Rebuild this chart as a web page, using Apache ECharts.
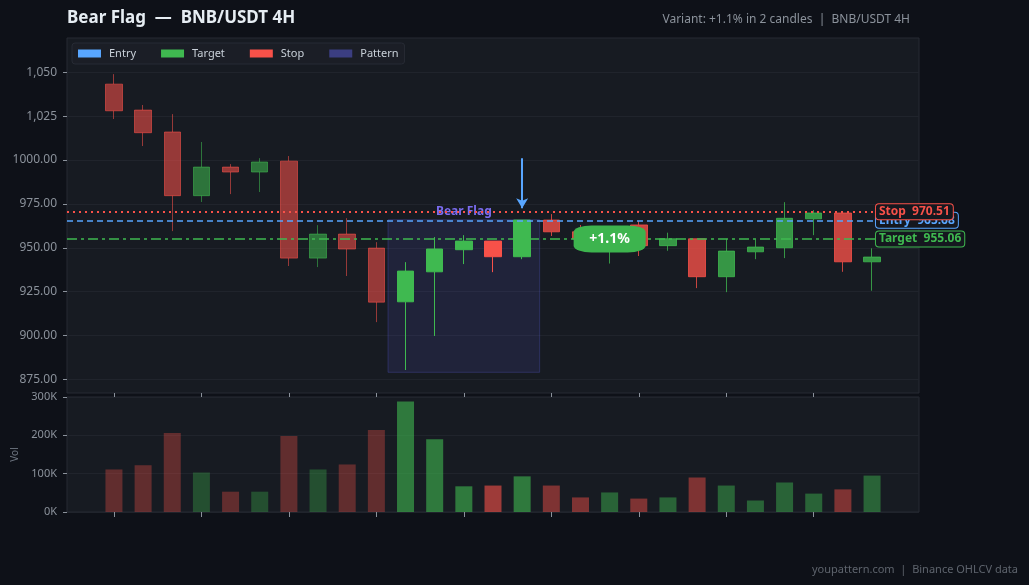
<!DOCTYPE html>
<html>
<head>
<meta charset="utf-8">
<script src="https://cdn.jsdelivr.net/npm/echarts@6/dist/echarts.min.js"></script>
<style>
  html, body { margin: 0; padding: 0; background: #0e1118; }
  #chart { width: 1029px; height: 585px; }
</style>
</head>
<body>
<div id="chart"></div>
<script>
// candle data (index 0..26, 4H candles)
const opens  = [1043.3, 1028.5, 1016.0, 979.7, 996.0, 993.2, 999.4, 944.1, 957.8, 949.8,
                919.2, 936.3, 948.9, 953.8, 944.9, 965.8, 959.1, 953.0, 963.0, 951.2,
                955.1, 933.5, 947.7, 950.0, 966.5, 969.8, 942.0];
const closes = [1028.1, 1015.6, 979.7, 996.0, 993.2, 998.9, 944.1, 957.8, 949.3, 919.0,
                936.7, 949.3, 953.8, 944.9, 965.8, 959.1, 955.0, 957.0, 951.2, 955.1,
                933.5, 948.1, 950.4, 966.8, 969.8, 942.0, 944.7];
const lows   = [1023.4, 1008.0, 959.5, 976.1, 980.6, 981.8, 939.6, 939.0, 933.9, 907.6,
                880.3, 899.7, 940.7, 936.1, 943.5, 956.7, 951.0, 941.0, 945.3, 948.3,
                927.0, 924.7, 943.5, 944.1, 957.2, 936.3, 925.5];
const highs  = [1049.0, 1031.4, 1026.2, 1010.3, 997.7, 1001.1, 1002.3, 962.9, 966.9, 953.2,
                941.8, 956.1, 957.2, 953.8, 965.8, 969.2, 963.0, 962.0, 965.2, 958.6,
                955.1, 955.1, 954.8, 976.0, 971.5, 969.8, 949.7];
const volumes = [111000, 122000, 206000, 103000, 53000, 53000, 198000, 111000, 124000, 214000,
                 288000, 190000, 67000, 69000, 93000, 69000, 38000, 51000, 35000, 38000,
                 90000, 69000, 30000, 77000, 48000, 59000, 95000];

const entry = 965.68;
const target = 955.06;
const stop = 970.51;
const patternStart = 10, patternEnd = 14;
const patternTop = 966, patternBottom = 879;
const priceTicks = [875, 900, 925, 950, 975, 1000, 1025, 1050];
const timeTicks = [0, 3, 6, 9, 12, 15, 18, 21, 24];

const UP = '#3fb950', DOWN = '#f85149', BLUE = '#58a6ff';
const FONT = 'Noto Sans';

function phaseOpacity(i, pre, mid, post) {
  if (i < patternStart) return pre;
  if (i <= patternEnd) return mid;
  return post;
}

const candleData = opens.map((o, i) => ({
  value: [i, o, closes[i], lows[i], highs[i]],
  itemStyle: { opacity: phaseOpacity(i, 0.57, 1, 0.78) }
}));

const volData = volumes.map((v, i) => ({
  value: [i, v],
  itemStyle: {
    color: closes[i] >= opens[i] ? UP : DOWN,
    opacity: phaseOpacity(i, 0.33, 0.6, 0.46)
  }
}));

const xMin = -1.61, xMax = 27.61, lineEnd = 26.1;

function levelLabel(name, val, color) {
  return {
    show: true,
    position: 'end',
    distance: 1,
    formatter: name + '  ' + val.toFixed(2),
    color: color,
    fontFamily: FONT,
    fontSize: 12,
    fontWeight: 'bold',
    backgroundColor: '#15181f',
    borderColor: color,
    borderWidth: 1,
    borderRadius: 3,
    padding: [2, 3, 1, 3]
  };
}

function levelSeries(name, val, color, type, width) {
  return {
    name: name,
    type: 'line',
    data: [],
    z: 5,
    itemStyle: { color: color },
    lineStyle: { color: color },
    markLine: {
      silent: true,
      symbol: ['none', 'none'],
      animation: false,
      lineStyle: { color: color, type: type, width: width },
      label: levelLabel(name, val, color),
      data: [[{ coord: [xMin, val] }, { coord: [lineEnd, val] }]]
    }
  };
}

const chart = echarts.init(document.getElementById('chart'));

chart.setOption({
  backgroundColor: '#0e1118',
  animation: false,
  textStyle: { fontFamily: FONT },
  title: [
    {
      text: 'Bear Flag  —  BNB/USDT 4H',
      left: 62, top: 5,
      textStyle: { color: '#e6edf3', fontSize: 17, fontWeight: 'bold', fontFamily: FONT }
    },
    {
      text: 'Variant: +1.1% in 2 candles  |  BNB/USDT 4H',
      right: 114, top: 9,
      textStyle: { color: '#8b929b', fontSize: 12, fontWeight: 'normal', fontFamily: FONT }
    },
    {
      text: 'youpattern.com  |  Binance OHLCV data',
      right: 6, bottom: 5,
      textStyle: { color: '#5e646d', fontSize: 11, fontWeight: 'normal', fontFamily: FONT }
    }
  ],
  legend: {
    data: ['Entry', 'Target', 'Stop', 'Pattern'],
    left: 72, top: 43,
    icon: 'rect',
    itemWidth: 23,
    itemHeight: 8,
    itemGap: 25,
    padding: [5, 6],
    backgroundColor: '#1b1e26',
    borderColor: '#272b34',
    borderWidth: 1,
    borderRadius: 3,
    textStyle: { color: '#c9d1d9', fontSize: 11, fontFamily: FONT, padding: [0, 0, 0, 3] }
  },
  grid: [
    { left: 67, right: 110, top: 38, height: 355, show: true,
      backgroundColor: '#171b22', borderColor: '#262a33', borderWidth: 1 },
    { left: 67, right: 110, top: 397, height: 115, show: true,
      backgroundColor: '#171b22', borderColor: '#262a33', borderWidth: 1 }
  ],
  xAxis: [
    { type: 'value', gridIndex: 0, min: xMin, max: xMax,
      axisLine: { show: false, onZero: false }, axisLabel: { show: false },
      axisTick: { show: true, length: 4, customValues: timeTicks, lineStyle: { color: '#8b929b' } },
      splitLine: { show: false } },
    { type: 'value', gridIndex: 1, min: xMin, max: xMax,
      axisLine: { show: false, onZero: false }, axisLabel: { show: false },
      axisTick: { show: true, length: 5, customValues: timeTicks, lineStyle: { color: '#8b929b' } },
      splitLine: { show: false } }
  ],
  yAxis: [
    { type: 'value', gridIndex: 0, min: 867.2, max: 1069.6, scale: true,
      axisLine: { show: false, onZero: false },
      axisTick: { show: true, length: 4, customValues: priceTicks, lineStyle: { color: '#8b929b' } },
      axisLabel: {
        color: '#8b929b', fontSize: 12, margin: 10, customValues: priceTicks,
        formatter: v => v > 1000 ? v.toLocaleString('en-US') : v.toFixed(2)
      },
      splitLine: { show: true, lineStyle: { color: '#20242c' } } },
    { type: 'value', gridIndex: 1, min: 0, max: 300000, interval: 100000,
      name: 'Vol', nameLocation: 'middle', nameGap: 47,
      nameTextStyle: { color: '#6e7681', fontSize: 10 },
      axisLine: { show: false, onZero: false },
      axisTick: { show: true, length: 4, lineStyle: { color: '#8b929b' } },
      axisLabel: { color: '#8b929b', fontSize: 11, margin: 10, formatter: v => (v / 1000) + 'K' },
      splitLine: { show: true, lineStyle: { color: '#20242c' } } }
  ],
  series: [
    {
      name: 'Pattern',
      type: 'line',
      data: [],
      z: 1,
      itemStyle: { color: 'rgba(99,102,241,0.45)' },
      markArea: {
        silent: true,
        itemStyle: { color: 'rgba(99,102,241,0.12)', borderColor: 'rgba(99,102,241,0.25)', borderWidth: 1 },
        label: {
          show: true, position: 'top', distance: 2,
          color: '#7b6cf0', fontWeight: 'bold', fontSize: 12, fontFamily: FONT
        },
        data: [[
          { name: 'Bear Flag', coord: [patternStart - 0.6, patternTop] },
          { coord: [patternEnd + 0.6, patternBottom] }
        ]]
      }
    },
    {
      name: 'Price',
      type: 'candlestick',
      xAxisIndex: 0, yAxisIndex: 0,
      z: 3,
      barWidth: 17,
      encode: { x: 0, y: [1, 2, 3, 4] },
      itemStyle: { color: UP, color0: DOWN, borderColor: UP, borderColor0: DOWN, borderWidth: 1 },
      data: candleData,
      markPoint: {
        silent: true,
        z: 10,
        data: [{
          coord: [17, target],
          symbol: 'roundRect',
          symbolSize: [72, 27],
          itemStyle: { color: '#3db44e' },
          label: {
            show: true, position: 'inside', formatter: '+1.1%',
            color: '#ffffff', fontSize: 14, fontWeight: 'bold', fontFamily: FONT
          }
        }]
      }
    },
    {
      name: 'Volume',
      type: 'bar',
      xAxisIndex: 1, yAxisIndex: 1,
      barWidth: 17,
      encode: { x: 0, y: 1 },
      data: volData
    },
    levelSeries('Entry', entry, BLUE, [6, 4], 1.5),
    levelSeries('Target', target, UP, [10, 4, 3, 4], 1.5),
    levelSeries('Stop', stop, DOWN, [2, 4], 1.8),
    {
      name: 'Arrow',
      type: 'line',
      data: [],
      z: 6,
      markLine: {
        silent: true,
        symbol: ['none', 'arrow'],
        symbolSize: [9, 10],
        lineStyle: { color: BLUE, type: 'solid', width: 2 },
        label: { show: false },
        data: [[{ coord: [patternEnd, 1001] }, { coord: [patternEnd, 972.5] }]]
      }
    }
  ]
});
</script>
</body>
</html>
